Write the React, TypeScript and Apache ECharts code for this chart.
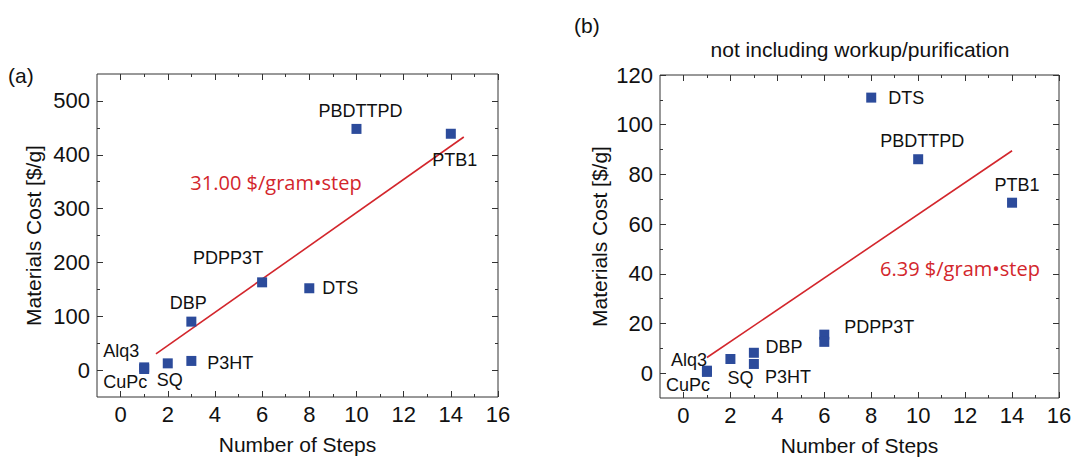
import React, { useEffect, useRef } from "react";
import * as echarts from "echarts";

// ---------- data ----------
const NAMES_A = ["Alq3", "CuPc", "SQ", "P3HT", "DBP", "PDPP3T", "DTS", "PBDTTPD", "PTB1"];
const STEPS_A = [1, 1, 2, 3, 3, 6, 8, 10, 14];
const COST_A = [5, 2, 12.5, 17, 90, 163, 152, 448, 439];
const FIT_A_X = [1.5, 14.55];
const FIT_A_Y = [30, 433];

const NAMES_B = ["Alq3", "CuPc", "SQ", "P3HT", "DBP", "PDPP3T", "", "DTS", "PBDTTPD", "PTB1"];
const STEPS_B = [1, 1, 2, 3, 3, 6, 6, 8, 10, 14];
const COST_B = [1.0, 0.5, 5.7, 3.7, 8.2, 15.5, 12.6, 110.9, 86.1, 68.6];
const FIT_B_X = [1, 14];
const FIT_B_Y = [6.3, 89.5];

const X_MAJOR = [0, 2, 4, 6, 8, 10, 12, 14, 16];
const X_MINOR = [1, 3, 5, 7, 9, 11, 13, 15];
const Y_MAJOR_A = [0, 100, 200, 300, 400, 500];
const Y_MINOR_A = [50, 150, 250, 350, 450];
const Y_MAJOR_B = [0, 20, 40, 60, 80, 100, 120];
const Y_MINOR_B = [10, 30, 50, 70, 90, 110];

const SLOPE_A = "31.00 $/gram•step";
const SLOPE_B = "6.39 $/gram•step";

// ---------- label placement (style, keyed by name) ----------
const LABEL_OFFSET_A: Record<string, [number, number]> = {
  Alq3: [-23, -16],
  CuPc: [-19, 13],
  SQ: [2, 17],
  P3HT: [39, 2],
  DBP: [-3, -19],
  PDPP3T: [-34, -24],
  DTS: [31, 0],
  PBDTTPD: [4, -18],
  PTB1: [4, 26],
};
const LABEL_OFFSET_B: Record<string, [number, number]> = {
  Alq3: [-18, -11],
  CuPc: [-19, 13],
  SQ: [10, 19],
  P3HT: [34, 13],
  DBP: [30, -6],
  PDPP3T: [55, -8],
  DTS: [35, 0],
  PBDTTPD: [4, -18],
  PTB1: [5, -18],
};

const FONT = "'Liberation Sans', Arial, Helvetica, sans-serif";
const TXT = "#111111";
const BLUE = "#2c4b9b";
const RED = "#d3262c";
const AX = "#333333";

function xAxes(grid: number, min: number, max: number, name: string) {
  const base = {
    gridIndex: grid,
    type: "value" as const,
    min,
    max,
    splitLine: { show: false },
    axisLine: { show: false, onZero: false },
  };
  return [
    {
      ...base,
      position: "bottom",
      axisTick: { inside: true, length: 6, customValues: X_MAJOR, lineStyle: { color: AX, width: 1 } },
      axisLabel: { customValues: X_MAJOR, margin: 6, fontSize: 22, color: TXT, fontFamily: FONT },
      name,
      nameLocation: "middle",
      nameGap: 37,
      nameTextStyle: { fontSize: 21, color: TXT, fontFamily: FONT },
    },
    {
      ...base,
      position: "bottom",
      axisTick: { inside: true, length: 3, customValues: X_MINOR, lineStyle: { color: AX, width: 1 } },
      axisLabel: { show: false },
    },
    {
      ...base,
      position: "top",
      axisTick: { inside: true, length: 6, customValues: X_MAJOR, lineStyle: { color: AX, width: 1 } },
      axisLabel: { show: false },
    },
    {
      ...base,
      position: "top",
      axisTick: { inside: true, length: 3, customValues: X_MINOR, lineStyle: { color: AX, width: 1 } },
      axisLabel: { show: false },
    },
  ];
}

function yAxes(grid: number, min: number, max: number, major: number[], minor: number[], nameGap: number) {
  const base = {
    gridIndex: grid,
    type: "value" as const,
    min,
    max,
    splitLine: { show: false },
    axisLine: { show: false, onZero: false },
  };
  return [
    {
      ...base,
      position: "left",
      axisTick: { inside: true, length: 6, customValues: major, lineStyle: { color: AX, width: 1 } },
      axisLabel: { customValues: major, margin: 7, fontSize: 22, color: TXT, fontFamily: FONT },
      name: "Materials Cost [$/g]",
      nameLocation: "middle",
      nameGap,
      nameTextStyle: { fontSize: 21, color: TXT, fontFamily: FONT },
    },
    {
      ...base,
      position: "left",
      axisTick: { inside: true, length: 3, customValues: minor, lineStyle: { color: AX, width: 1 } },
      axisLabel: { show: false },
    },
    {
      ...base,
      position: "right",
      axisTick: { inside: true, length: 6, customValues: major, lineStyle: { color: AX, width: 1 } },
      axisLabel: { show: false },
    },
    {
      ...base,
      position: "right",
      axisTick: { inside: true, length: 3, customValues: minor, lineStyle: { color: AX, width: 1 } },
      axisLabel: { show: false },
    },
  ];
}

function scatterData(names: string[], xs: number[], ys: number[], offsets: Record<string, [number, number]>) {
  return xs.map((x, i) => ({
    name: names[i],
    value: [x, ys[i]],
    label: { offset: offsets[names[i]] || [0, 0] },
  }));
}

export default function App() {
  const ref = useRef<HTMLDivElement>(null);

  useEffect(() => {
    if (!ref.current) return;
    const chart = echarts.init(ref.current, undefined, { renderer: "svg" });

    const labelStyle = {
      show: true,
      position: "inside",
      formatter: "{b}",
      fontSize: 18,
      color: TXT,
      fontFamily: FONT,
    };

    chart.setOption({
      animation: false,
      backgroundColor: "#ffffff",
      grid: [
        {
          left: 97, top: 74, width: 401, height: 323,
          show: true, borderColor: AX, borderWidth: 1, backgroundColor: "transparent",
          containLabel: false, outerBoundsMode: "none",
        },
        {
          left: 660, top: 75, width: 399, height: 323,
          show: true, borderColor: AX, borderWidth: 1, backgroundColor: "transparent",
          containLabel: false, outerBoundsMode: "none",
        },
      ],
      xAxis: [...xAxes(0, -1, 16, "Number of Steps"), ...xAxes(1, -1, 16, "Number of Steps")],
      yAxis: [
        ...yAxes(0, -50, 550, Y_MAJOR_A, Y_MINOR_A, 53),
        ...yAxes(1, -10, 120, Y_MAJOR_B, Y_MINOR_B, 50),
      ],
      series: [
        {
          type: "line",
          xAxisIndex: 0,
          yAxisIndex: 0,
          data: FIT_A_X.map((x, i) => [x, FIT_A_Y[i]]),
          showSymbol: false,
          symbol: "none",
          lineStyle: { color: RED, width: 1.6 },
          z: 2,
        },
        {
          type: "scatter",
          xAxisIndex: 0,
          yAxisIndex: 0,
          symbol: "rect",
          symbolSize: 10,
          itemStyle: { color: BLUE, opacity: 1 },
          label: labelStyle,
          data: scatterData(NAMES_A, STEPS_A, COST_A, LABEL_OFFSET_A),
          z: 3,
        },
        {
          type: "line",
          xAxisIndex: 4,
          yAxisIndex: 4,
          data: FIT_B_X.map((x, i) => [x, FIT_B_Y[i]]),
          showSymbol: false,
          symbol: "none",
          lineStyle: { color: RED, width: 1.6 },
          z: 2,
        },
        {
          type: "scatter",
          xAxisIndex: 4,
          yAxisIndex: 4,
          symbol: "rect",
          symbolSize: 10,
          itemStyle: { color: BLUE, opacity: 1 },
          label: labelStyle,
          data: scatterData(NAMES_B, STEPS_B, COST_B, LABEL_OFFSET_B),
          z: 3,
        },
      ],
      graphic: [
        {
          type: "text",
          left: 8,
          top: 65,
          style: { text: "(a)", font: `21px ${FONT}`, fill: TXT },
        },
        {
          type: "text",
          left: 574,
          top: 15,
          style: { text: "(b)", font: `21px ${FONT}`, fill: TXT },
        },
        {
          type: "text",
          x: 860,
          y: 49,
          style: {
            text: "not including workup/purification",
            font: `21px ${FONT}`,
            fill: TXT,
            align: "center",
            verticalAlign: "middle",
          },
        },
        {
          type: "text",
          x: 276,
          y: 182,
          style: {
            text: SLOPE_A,
            font: `20px 'Open Sans', sans-serif`,
            fill: RED,
            align: "center",
            verticalAlign: "middle",
          },
        },
        {
          type: "text",
          x: 960,
          y: 268,
          style: {
            text: SLOPE_B,
            font: `20px 'Open Sans', sans-serif`,
            fill: RED,
            align: "center",
            verticalAlign: "middle",
          },
        },
      ],
    });

    return () => chart.dispose();
  }, []);

  return (
    <div
      ref={ref}
      style={{ position: "fixed", left: 0, top: 0, width: 1076, height: 459, background: "#fff" }}
    />
  );
}
